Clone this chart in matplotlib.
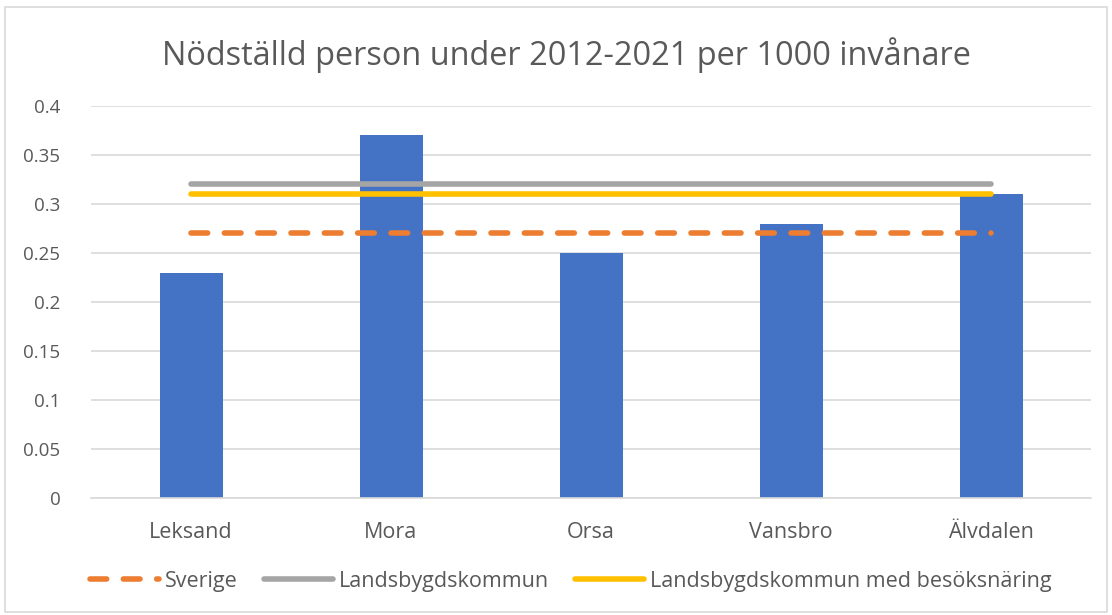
import matplotlib.pyplot as plt
import numpy as np
from matplotlib.patches import Rectangle

plt.rcParams["font.family"] = ["Open Sans", "DejaVu Sans"]

kommuner = ["Leksand", "Mora", "Orsa", "Vansbro", "Älvdalen"]
values = [0.23, 0.37, 0.25, 0.28, 0.31]
sverige = [0.27, 0.27, 0.27, 0.27, 0.27]
landsbygd = [0.32, 0.32, 0.32, 0.32, 0.32]
landsbygd_besok = [0.31, 0.31, 0.31, 0.31, 0.31]
yticks = [0, 0.05, 0.1, 0.15, 0.2, 0.25, 0.3, 0.35, 0.4]
ytick_labels = ["0", "0.05", "0.1", "0.15", "0.2", "0.25", "0.3", "0.35", "0.4"]

text_color = "#595959"

fig = plt.figure(figsize=(11.12, 6.15), dpi=100)
ax = fig.add_axes([91 / 1112, 1 - 498 / 615, 1000 / 1112, 392 / 615])

x = np.arange(len(kommuner))
ax.bar(x, values, width=0.315, color="#4472C4", zorder=2)
ax.plot(x, sverige, color="#ED7D31", linewidth=4, linestyle=(0, (3, 3)),
        dash_capstyle="round", solid_capstyle="round", label="Sverige", zorder=3)
ax.plot(x, landsbygd, color="#A5A5A5", linewidth=4, solid_capstyle="round",
        label="Landsbygdskommun", zorder=3)
ax.plot(x, landsbygd_besok, color="#FFC000", linewidth=4, solid_capstyle="round",
        label="Landsbygdskommun med besöksnäring", zorder=3)

ax.set_xlim(-0.5, len(kommuner) - 0.5)
ax.set_ylim(0, 0.4)
ax.set_yticks(yticks)
ax.set_yticklabels(ytick_labels)
ax.set_xticks(x)
ax.set_xticklabels(kommuner)
ax.tick_params(axis="both", length=0, colors=text_color)
ax.tick_params(axis="y", pad=22, labelsize=13.5)
ax.tick_params(axis="x", pad=17, labelsize=15.5)
ax.grid(axis="y", color="#D9D9D9", linewidth=1.2, zorder=0)
ax.set_axisbelow(True)
for side in ["top", "right", "left"]:
    ax.spines[side].set_visible(False)
ax.spines["bottom"].set_color("#D9D9D9")
ax.spines["bottom"].set_linewidth(1.2)

fig.text(566 / 1112, 1 - 55 / 615, "Nödställd person under 2012-2021 per 1000 invånare",
         ha="center", va="center", fontsize=23.4, color=text_color)

fig.legend(loc="center", bbox_to_anchor=(571 / 1112, 1 - 581 / 615), ncol=3, frameon=False,
           fontsize=15.5, labelcolor=text_color, handlelength=3.2, columnspacing=1.2,
           handletextpad=0.3)

fig.patches.append(Rectangle((5 / 1112, 3 / 615), 1102 / 1112, 605 / 615,
                             transform=fig.transFigure, fill=False,
                             edgecolor="#D9D9D9", linewidth=1.2))

fig.savefig("out.png", dpi=100)
